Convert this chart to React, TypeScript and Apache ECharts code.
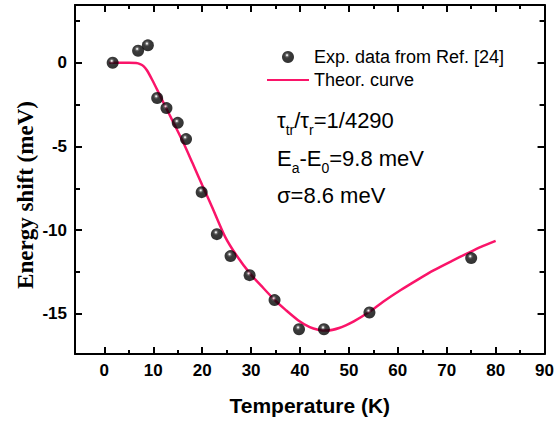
import React, { useEffect, useRef } from "react";
import * as echarts from "echarts";

// Experimental data (Temperature K, Energy shift meV)
const expT = [1.7, 6.9, 8.9, 10.8, 12.7, 15.0, 16.7, 19.9, 23.0, 25.8, 29.7, 34.8, 39.8, 44.9, 54.2, 75.0];
const expE = [0, 0.72, 1.04, -2.11, -2.71, -3.59, -4.56, -7.73, -10.24, -11.55, -12.69, -14.18, -15.92, -15.92, -14.92, -11.67];

// Theoretical curve
const curveT = [1, 3, 5, 6.5, 7.3, 8, 8.7, 9.8, 11, 12.5, 14, 16, 18, 20, 22, 24.7, 27, 29.8, 32, 34.9, 37, 39.6, 42, 43.7, 45.5, 48, 51, 54.2, 57, 60.6, 64, 67.4, 71, 74.2, 77, 80];
const curveE = [0, 0, 0, -0.02, -0.08, -0.2, -0.45, -1.03, -1.73, -2.63, -3.5, -4.68, -5.98, -7.3, -8.6, -10.4, -11.5, -12.6, -13.3, -14.2, -14.75, -15.38, -15.8, -15.95, -16.0, -15.85, -15.45, -14.88, -14.28, -13.58, -12.97, -12.39, -11.85, -11.39, -11.0, -10.64];

const xMajor = [0, 10, 20, 30, 40, 50, 60, 70, 80, 90];
const xMinor = [5, 15, 25, 35, 45, 55, 65, 75, 85];
const yMajor = [-15, -10, -5, 0];
const yMinor = [-12.5, -7.5, -2.5, 2.5];

const X_MIN = -6;
const X_MAX = 90;
const Y_MIN = -17.4;
const Y_MAX = 3.45;

const SANS = "'Liberation Sans', Arial, sans-serif";
const SERIF = "'Liberation Serif', 'Times New Roman', serif";
const LINE_COLOR = "#fa1469";

export default function App() {
  const ref = useRef<HTMLDivElement>(null);
  useEffect(() => {
    if (!ref.current) return;
    const chart = echarts.init(ref.current, null, { renderer: "svg" });
    const axisLine = { show: true, onZero: false, lineStyle: { color: "#000", width: 2 } };
    const noLine = { show: false, onZero: false };
    const mkX = (pos: string, major: boolean, labels: boolean, line: boolean) => ({
      type: "value",
      position: pos,
      min: X_MIN,
      max: X_MAX,
      splitLine: { show: false },
      axisLine: line ? axisLine : noLine,
      axisTick: {
        show: true,
        inside: true,
        length: major ? 7 : 4,
        lineStyle: { color: "#000", width: 2 },
        customValues: major ? xMajor : xMinor,
      },
      axisLabel: labels
        ? {
            show: true,
            customValues: xMajor,
            margin: 8,
            fontFamily: SANS,
            fontWeight: "bold",
            fontSize: 17,
            color: "#000",
          }
        : { show: false },
    });
    const mkY = (pos: string, major: boolean, labels: boolean, line: boolean) => ({
      type: "value",
      position: pos,
      min: Y_MIN,
      max: Y_MAX,
      splitLine: { show: false },
      axisLine: line ? axisLine : noLine,
      axisTick: {
        show: true,
        inside: true,
        length: major ? 7 : 5,
        lineStyle: { color: "#000", width: 2 },
        customValues: major ? yMajor : yMinor,
      },
      axisLabel: labels
        ? {
            show: true,
            customValues: yMajor,
            margin: 8,
            fontFamily: SANS,
            fontWeight: "bold",
            fontSize: 17,
            color: "#000",
          }
        : { show: false },
    });

    const xAxis: any[] = [mkX("bottom", true, true, true), mkX("bottom", false, false, false), mkX("top", true, false, true), mkX("top", false, false, false)];
    xAxis[0].name = "Temperature (K)";
    xAxis[0].nameLocation = "middle";
    xAxis[0].nameGap = 41;
    xAxis[0].nameTextStyle = { fontFamily: SANS, fontWeight: "bold", fontSize: 21, color: "#000" };

    const yAxis: any[] = [mkY("left", true, true, true), mkY("left", false, false, false), mkY("right", true, false, true), mkY("right", false, false, false)];

    const sphere = {
      type: "radial",
      x: 0.42,
      y: 0.35,
      r: 0.6,
      colorStops: [
        { offset: 0, color: "#ffffff" },
        { offset: 0.08, color: "#dddddd" },
        { offset: 0.22, color: "#444444" },
        { offset: 0.4, color: "#0a0a0a" },
        { offset: 1, color: "#000000" },
      ],
    };

    const sub = { fontSize: 14, fontFamily: SANS, color: "#000", padding: [20, 0, 0, 0], lineHeight: 14 };
    const main = { fontSize: 22, fontFamily: SANS, color: "#000", lineHeight: 26 };

    chart.setOption({
      animation: false,
      backgroundColor: "#fff",
      grid: { left: 75, right: 9, top: 5, bottom: 69, containLabel: false },
      xAxis,
      yAxis,
      legend: {
        show: true,
        orient: "vertical",
        left: 266,
        top: 48,
        padding: 0,
        itemWidth: 42,
        itemHeight: 12,
        itemGap: 5,
        textStyle: { fontFamily: SANS, fontSize: 18, color: "#000", lineHeight: 18 },
        data: [
          { name: "Exp. data from Ref. [24]", icon: "circle" },
          { name: "Theor. curve", itemStyle: { opacity: 0 } },
        ],
      },
      graphic: [
        {
          type: "text",
          x: 25,
          y: 195,
          rotation: Math.PI / 2,
          style: {
            text: "Energy shift (meV)",
            font: `bold 23px ${SERIF}`,
            fill: "#000",
            align: "center",
            verticalAlign: "middle",
          },
        },
        {
          type: "text",
          x: 277,
          y: 120,
          style: {
            text: "{m|τ}{s|tr}{m|/τ}{s|r}{m|=1/4290}",
            rich: { m: main, s: sub },
            align: "left",
            verticalAlign: "middle",
          },
        },
        {
          type: "text",
          x: 277,
          y: 158,
          style: {
            text: "{m|E}{s|a}{m|-E}{s|0}{m|=9.8 meV}",
            rich: { m: main, s: sub },
            align: "left",
            verticalAlign: "middle",
          },
        },
        {
          type: "text",
          x: 277,
          y: 195,
          style: {
            text: "σ=8.6 meV",
            font: `22px ${SANS}`,
            fill: "#000",
            align: "left",
            verticalAlign: "middle",
          },
        },
      ],
      series: [
        {
          name: "Exp. data from Ref. [24]",
          type: "scatter",
          xAxisIndex: 0,
          yAxisIndex: 0,
          symbol: "circle",
          symbolSize: 12,
          itemStyle: { color: sphere as any },
          data: expT.map((t, i) => [t, expE[i]]),
          z: 3,
        },
        {
          name: "Theor. curve",
          type: "line",
          xAxisIndex: 0,
          yAxisIndex: 0,
          symbol: "none",
          smooth: 0.25,
          lineStyle: { color: LINE_COLOR, width: 2.5 },
          itemStyle: { color: LINE_COLOR },
          data: curveT.map((t, i) => [t, curveE[i]]),
          z: 2,
        },
      ],
    });
    return () => chart.dispose();
  }, []);
  return <div ref={ref} style={{ width: 557, height: 423, position: "absolute", left: 0, top: 0 }} />;
}
